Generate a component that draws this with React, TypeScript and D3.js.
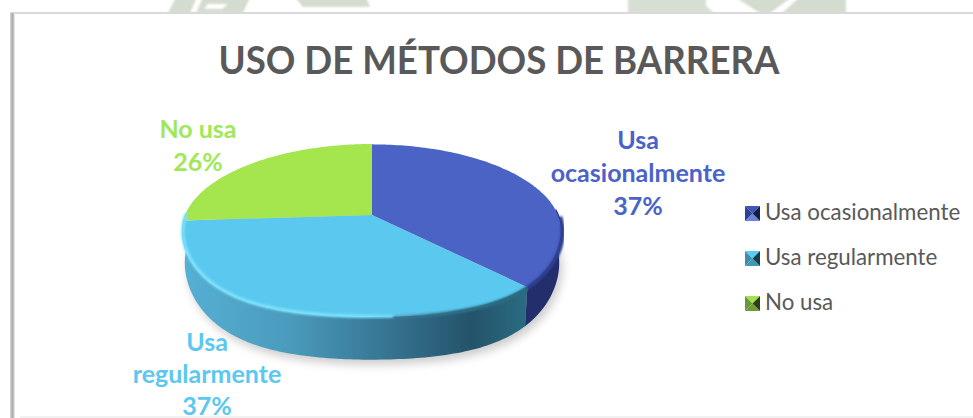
import React from "react";
import * as d3 from "d3";

const categories = ["Usa ocasionalmente", "Usa regularmente", "No usa"];
const values = [37, 37, 26];
const topColors = ["#4a63c4", "#5ac8ef", "#a5e64f"];
const labelColors = ["#4a63c8", "#5ac8f0", "#a0e85a"];
const swatchTop = ["#3f56b4", "#5accf2", "#a4e24e"];
const swatchBottom = ["#6e84d8", "#3f97b5", "#6f9c38"];
const swatchLeft = ["#2f4196", "#3a8eae", "#6a9a35"];
const swatchRight = ["#141c48", "#163c4c", "#2c3f16"];
const title = "USO DE MÉTODOS DE BARRERA";

const W = 973, H = 418;
const cx = 372, cyTop = 215, k = 0.179, A = 83.7, Rx = 187;
const faceMid = 230.5, wallMid = 262, wallScale = 1.13, wallX = 0.985, bulge = 7;

function project(a: number, r = 1): [number, number] {
  const u = Math.sin(a) * r, v = Math.cos(a) * r;
  const s = 1 / (1 + k * v);
  const extra = v < 0 ? bulge * 4 * u * u * v * v : 0;
  return [cx + Rx * u * s, cyTop - A * v * s + extra];
}
function wallPoint(a: number): [number, number] {
  const [x, y] = project(a);
  return [cx + (x - cx) * wallX, wallMid + (y - faceMid) * wallScale];
}
function sample(a0: number, a1: number) {
  const n = Math.max(2, Math.ceil(Math.abs(a1 - a0) / 0.02));
  return d3.range(n + 1).map((i) => a0 + ((a1 - a0) * i) / n);
}
const arcPts = (a0: number, a1: number, r = 1) => sample(a0, a1).map((a) => project(a, r));
const wallPts = (a0: number, a1: number) => sample(a0, a1).map(wallPoint);
const line = d3.line();
const arcs = d3.pie<number>().sort(null)(values);

export default function App() {
  const sidePath = (a0: number, a1: number) =>
    line([...arcPts(a0, a1), ...wallPts(a1, a0)])! + "Z";
  const rightEdge = Math.PI / 2 + 0.12;
  const leftEdge = (3 * Math.PI) / 2 + 0.02;
  const shadow = line(wallPts(0, 2 * Math.PI).map(([x, y]) => [x + 3, y + 5] as [number, number]))! + "Z";
  const legendY = [220, 265, 310];
  const boxY = [206, 251, 296];
  return (
    <svg
      width={W}
      height={H}
      viewBox={`0 0 ${W} ${H}`}
      style={{ position: "absolute", left: 0, top: 0, background: "#fff" }}
      fontFamily="Lato, 'Open Sans', sans-serif"
    >
      <defs>
        <filter id="blur6" x="-20%" y="-20%" width="140%" height="140%"><feGaussianBlur stdDeviation="5" /></filter>
        <filter id="blur1" x="-5%" y="-5%" width="110%" height="110%"><feGaussianBlur stdDeviation="1.3" /></filter>
        <filter id="blurW" x="-5%" y="-50%" width="110%" height="200%"><feGaussianBlur stdDeviation="1.2" /></filter>
        <linearGradient id="sideCyan" gradientUnits="userSpaceOnUse" x1="183" x2="526" y1="0" y2="0">
          <stop offset="0" stopColor="#55b0d4" />
          <stop offset="0.32" stopColor="#4a9abb" />
          <stop offset="0.62" stopColor="#35718f" />
          <stop offset="0.84" stopColor="#24536a" />
          <stop offset="1" stopColor="#2a6c82" />
        </linearGradient>
        <linearGradient id="rimLight" gradientUnits="userSpaceOnUse" x1="183" x2="440" y1="0" y2="0">
          <stop offset="0" stopColor="#78e2fb" />
          <stop offset="0.7" stopColor="#78e2fb" />
          <stop offset="1" stopColor="#5ac8ef" />
        </linearGradient>
        <linearGradient id="rimDark" gradientUnits="userSpaceOnUse" x1="360" x2="526" y1="0" y2="0">
          <stop offset="0" stopColor="#3a88a8" stopOpacity="0" />
          <stop offset="0.6" stopColor="#2d6c86" stopOpacity="0.9" />
          <stop offset="1" stopColor="#2a6c82" />
        </linearGradient>
        <linearGradient id="leftBorder" x1="0" x2="1" y1="0" y2="0">
          <stop offset="0" stopColor="#d8d8d8" />
          <stop offset="0.55" stopColor="#a8a8a8" />
          <stop offset="1" stopColor="#f4f4f4" />
        </linearGradient>
      </defs>

      {/* faint watermark above the chart box */}
      <g fill="#d3dccf" stroke="none" filter="url(#blurW)">
        <polygon points="176,-3 250,-3 243,13 168,13" />
        <polygon points="295,-3 366,-3 370,7 303,7" />
        <polygon points="628,-3 706,-3 706,6 714,13 628,13" opacity="0.9" />
        <polygon points="735,-3 792,-3 770,13 760,13" />
        <polygon points="782,13 800,-3 822,-3 846,13" />
        <polygon points="822,-3 846,-3 846,13 836,13" />
      </g>
      <g fill="#fff" filter="url(#blurW)">
        <polygon points="197,-3 203,-3 196,13 190,13" />
        <polygon points="208,4 228,4 222,9 204,9" />
      </g>

      {/* chart frame */}
      <rect x={10} y={13} width={W - 10} height={H - 13} fill="#fff" />
      <rect x={10} y={12} width={W - 10} height={2} fill="#d9d9d9" />
      <rect x={10} y={13} width={5} height={H - 13} fill="url(#leftBorder)" />
      <rect x={20} y={416} width={W - 20} height={2} fill="#f1f1f1" />

      <text x={499} y={74} textAnchor="middle" fontSize={38} fontWeight={700} fill="#595959" textLength={561} lengthAdjust="spacingAndGlyphs">{title}</text>

      {/* pie shadow */}
      <path d={shadow} fill="#000" opacity={0.2} filter="url(#blur6)" />

      {/* side wall */}
      <path d={sidePath(arcs[0].endAngle, leftEdge)} fill="url(#sideCyan)" />
      <path d={sidePath(rightEdge - 0.2, arcs[0].endAngle)} fill="#232f6c" />

      {/* soft edge where the face turns into the wall */}
      <path d={line(arcPts(arcs[0].endAngle, Math.PI))!} fill="none" stroke="url(#rimDark)" strokeWidth={5} filter="url(#blur1)" />
      <path d={line(arcPts(rightEdge - 0.1, arcs[0].endAngle))!} fill="none" stroke="#2a3a8a" strokeWidth={5} filter="url(#blur1)" />

      {/* top face */}
      {arcs.map((d, i) => (
        <path
          key={i}
          d={line([[cx, cyTop], ...arcPts(d.startAngle, d.endAngle, 1 - (i < 2 ? 0.006 : 0))])! + "Z"}
          fill={topColors[i]}
        />
      ))}

      {/* rim highlight on the front left, shade on the front right */}
      <path d={line(arcPts(Math.PI * 0.97, leftEdge, 0.995))!} fill="none" stroke="url(#rimLight)" strokeWidth={3.5} filter="url(#blur1)" />
      <path d={line(arcPts(arcs[0].endAngle, Math.PI * 0.97))!} fill="none" stroke="url(#rimDark)" strokeWidth={3} filter="url(#blur1)" />
      <path d={line(arcPts(rightEdge, arcs[0].endAngle))!} fill="none" stroke="#2f3f92" strokeWidth={3} filter="url(#blur1)" />

      {/* data labels */}
      <g textAnchor="middle" fontSize={25} fontWeight={700}>
        <text fill={labelColors[0]}>
          <tspan x={638} y={149}>Usa</tspan>
          <tspan x={638} y={182}>ocasionalmente</tspan>
          <tspan x={638} y={215}>37%</tspan>
        </text>
        <text fill={labelColors[1]}>
          <tspan x={207} y={351}>Usa</tspan>
          <tspan x={207} y={383}>regularmente</tspan>
          <tspan x={207} y={415}>37%</tspan>
        </text>
        <text fill={labelColors[2]}>
          <tspan x={198} y={138}>No usa</tspan>
          <tspan x={198} y={171}>26%</tspan>
        </text>
      </g>

      {/* legend */}
      {categories.map((c, i) => {
        const x = 745, y = boxY[i], s = 15;
        const mx = x + s / 2, my = y + s / 2;
        return (
          <g key={c}>
            <polygon points={`${x},${y} ${x + s},${y} ${mx},${my}`} fill={swatchTop[i]} />
            <polygon points={`${x},${y + s} ${x + s},${y + s} ${mx},${my}`} fill={swatchBottom[i]} />
            <polygon points={`${x + s},${y} ${x + s},${y + s} ${mx},${my}`} fill={swatchRight[i]} />
            <polygon points={`${x},${y} ${x},${y + s} ${mx},${my}`} fill={swatchLeft[i]} />
            <text x={765} y={legendY[i]} fontSize={22.3} fill="#595959">{c}</text>
          </g>
        );
      })}
    </svg>
  );
}
